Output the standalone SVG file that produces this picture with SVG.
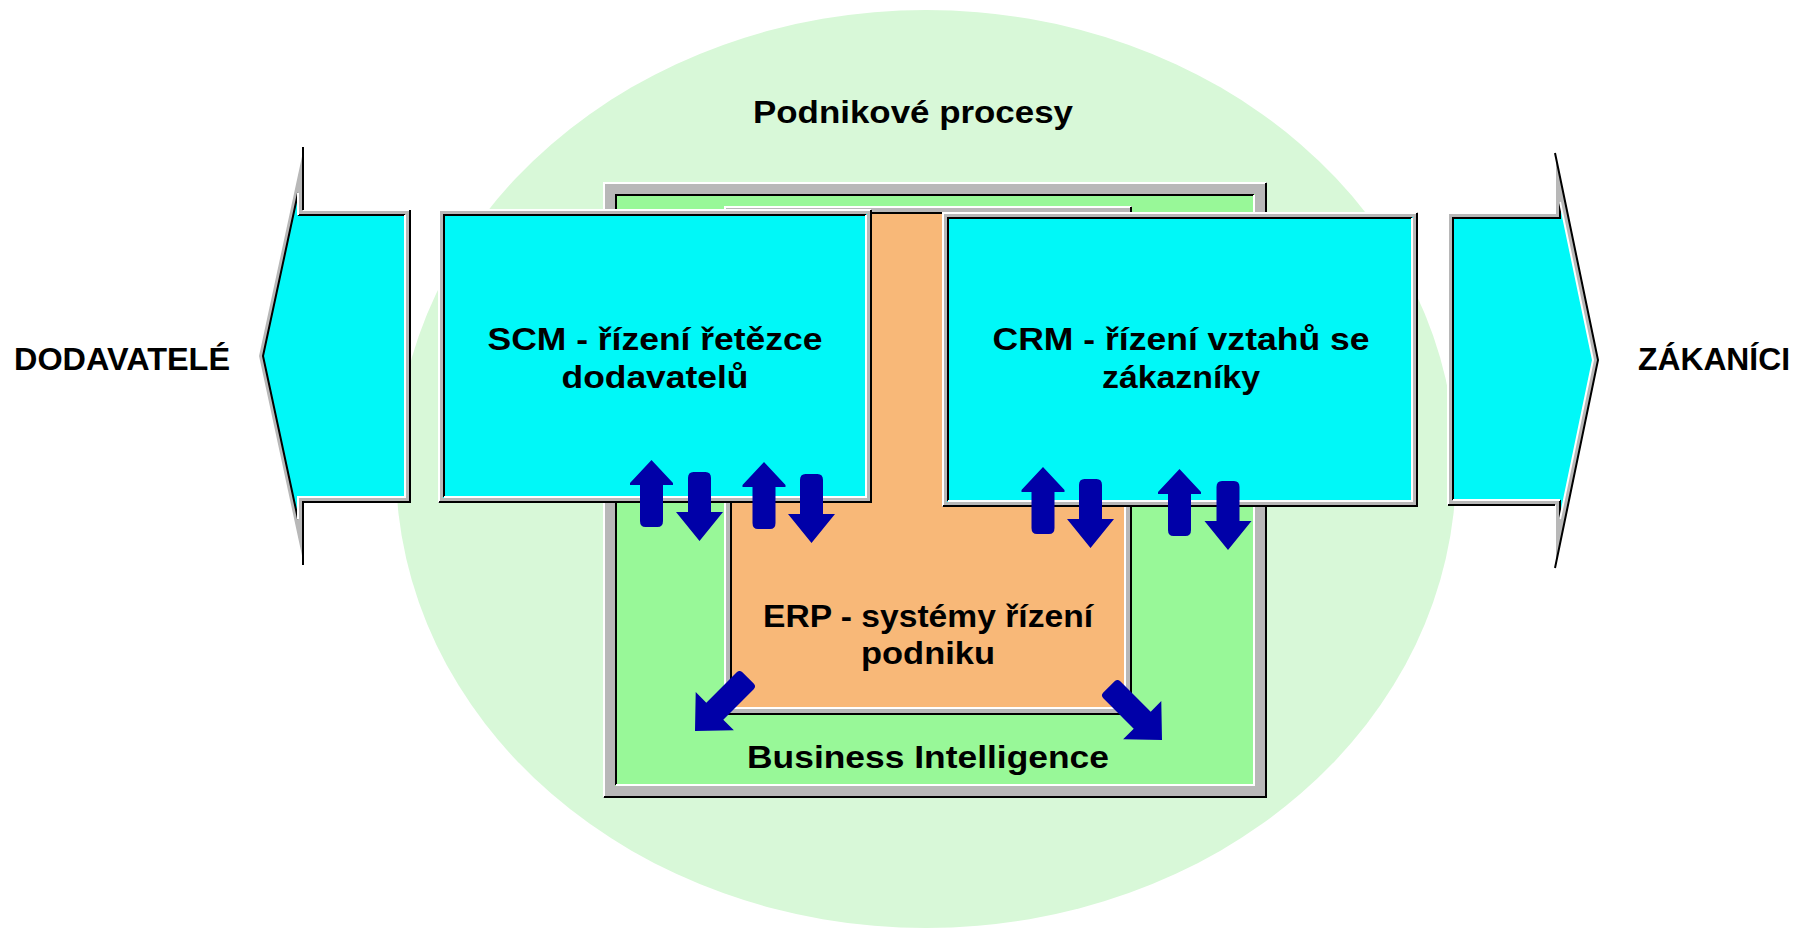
<svg xmlns="http://www.w3.org/2000/svg" width="1800" height="929" viewBox="0 0 1800 929">
<style>
.t{font-family:"Liberation Sans",Arial,sans-serif;font-weight:bold;font-size:31px;fill:#000;}
.g{fill:#b8b8b8;}
.wl{fill:none;stroke:#ffffff;stroke-width:2;}
.bl{fill:none;stroke:#000000;stroke-width:2;}
.cy{fill:#00f8f8;}
.ar{fill:#0000a8;}
</style>
<defs>
<path id="up" d="M0,0 L21.5,23 L21.5,25 L11.5,25 L11.5,61 Q11.5,67 6,67 L-6,67 Q-11.5,67 -11.5,61 L-11.5,25 L-21.5,25 L-21.5,23 Z"/>
<path id="down" d="M0,0 L-23.5,-29 L-11.5,-29 L-11.5,-63 Q-11.5,-69 -6,-69 L6,-69 Q11.5,-69 11.5,-63 L11.5,-29 L23.5,-29 Z"/>
<path id="diag" d="M0,0 L-28,-27 L-28,-12 L-71,-12 Q-75,-12 -75,-8 L-75,8 Q-75,12 -71,12 L-28,12 L-28,27 Z"/>
</defs>
<rect width="1800" height="929" fill="#ffffff"/>

<g id="podnikove-procesy">
<ellipse cx="926" cy="469" rx="530" ry="459" fill="#d8f8d8"/>
<text class="t" x="913" y="123" text-anchor="middle" textLength="320" lengthAdjust="spacingAndGlyphs">Podnikové procesy</text>
</g>

<g id="business-intelligence">
<rect class="g" x="603" y="182" width="664" height="616"/>
<rect x="615" y="194" width="640" height="592" fill="#98f898"/>
<polyline class="wl" points="604,797 604,183 1266,183"/>
<polyline class="bl" points="604,797 1266,797 1266,183"/>
<polyline class="bl" points="616,785 616,195 1254,195"/>
<polyline class="wl" points="616,785 1254,785 1254,195"/>
<text class="t" x="928" y="768" text-anchor="middle" textLength="362" lengthAdjust="spacingAndGlyphs">Business Intelligence</text>
</g>

<g id="erp">
<rect class="g" x="724" y="206" width="408" height="509"/>
<rect x="731" y="213" width="394" height="495" fill="#f8b878"/>
<polyline class="wl" points="725,714 725,207 1131,207"/>
<polyline class="bl" points="725,714 1131,714 1131,207"/>
<polyline class="bl" points="731,708 731,213 1125,213"/>
<polyline class="wl" points="731,708 1125,708 1125,213"/>
<text class="t" x="928" y="627" text-anchor="middle" textLength="330" lengthAdjust="spacingAndGlyphs">ERP - systémy řízení</text>
<text class="t" x="928" y="664" text-anchor="middle" textLength="134" lengthAdjust="spacingAndGlyphs">podniku</text>
</g>

<g id="scm">
<rect class="g" x="438" y="209" width="434" height="294"/>
<rect class="cy" x="443" y="214" width="424" height="284"/>
<polyline class="wl" points="439,502 439,210 871,210"/>
<polyline class="bl" points="439,502 871,502 871,210"/>
<polyline class="bl" points="444,497 444,215 866,215"/>
<polyline class="wl" points="444,497 866,497 866,215"/>
<text class="t" x="655" y="350" text-anchor="middle" textLength="335" lengthAdjust="spacingAndGlyphs">SCM - řízení řetězce</text>
<text class="t" x="655" y="388" text-anchor="middle" textLength="187" lengthAdjust="spacingAndGlyphs">dodavatelů</text>
</g>

<g id="crm">
<rect class="g" x="942" y="212" width="476" height="295"/>
<rect class="cy" x="947" y="217" width="466" height="285"/>
<polyline class="wl" points="943,506 943,213 1417,213"/>
<polyline class="bl" points="943,506 1417,506 1417,213"/>
<polyline class="bl" points="948,501 948,218 1412,218"/>
<polyline class="wl" points="948,501 1412,501 1412,218"/>
<text class="t" x="1181" y="350" text-anchor="middle" textLength="377" lengthAdjust="spacingAndGlyphs">CRM - řízení vztahů se</text>
<text class="t" x="1181" y="388" text-anchor="middle" textLength="158" lengthAdjust="spacingAndGlyphs">zákazníky</text>
</g>

<g id="dodavatele">
<polygon class="g" points="258,356 303,147 303,210 410,210 410,502 303,502 303,565"/>
<polygon class="cy" points="263,356 298,193 298,215 405,215 405,497 298,497 298,519"/>
<polyline class="wl" points="303,565 258,356 303,147"/>
<polyline class="wl" points="303,210 410,210"/>
<polyline class="bl" points="303,147 303,210"/>
<polyline class="bl" points="410,210 410,502 303,502 303,565"/>
<polyline class="bl" stroke-width="1.5" points="298,519 263,356 298,193"/>
<polyline class="bl" stroke-width="1.5" points="298,215 405,215"/>
<polyline class="wl" stroke-width="1.5" points="298,193 298,215"/>
<polyline class="wl" stroke-width="1.5" points="405,215 405,497 298,497 298,519"/>
<text class="t" x="14" y="370" textLength="216" lengthAdjust="spacingAndGlyphs">DODAVATELÉ</text>
</g>

<g id="zakaznici">
<polygon class="g" points="1448,213 1555,213 1555,153 1598,360 1555,568 1555,505 1448,505"/>
<polygon class="cy" points="1453,218 1560,218 1560,202 1593,360 1560,519 1560,500 1453,500"/>
<polyline class="wl" points="1448,505 1448,213 1555,213 1555,153"/>
<polyline class="wl" points="1555,568 1555,505"/>
<polyline class="bl" points="1555,153 1598,360 1555,568"/>
<polyline class="bl" points="1555,505 1448,505"/>
<polyline class="bl" stroke-width="1.5" points="1453,500 1453,218 1560,218 1560,202"/>
<polyline class="bl" stroke-width="1.5" points="1560,519 1560,500"/>
<polyline class="wl" stroke-width="1.5" points="1560,202 1593,360 1560,519"/>
<polyline class="wl" stroke-width="1.5" points="1560,500 1453,500"/>
<text class="t" x="1638" y="370" textLength="152" lengthAdjust="spacingAndGlyphs">ZÁKANÍCI</text>
</g>

<g id="connectors">
<use href="#up" class="ar" transform="translate(651.5,460)"/>
<use href="#down" class="ar" transform="translate(699.5,541)"/>
<use href="#up" class="ar" transform="translate(764,462)"/>
<use href="#down" class="ar" transform="translate(811.5,543)"/>
<use href="#up" class="ar" transform="translate(1043,467)"/>
<use href="#down" class="ar" transform="translate(1090.5,548)"/>
<use href="#up" class="ar" transform="translate(1179.5,469)"/>
<use href="#down" class="ar" transform="translate(1228,550)"/>
<use href="#diag" class="ar" transform="translate(695,731) rotate(135)"/>
<use href="#diag" class="ar" transform="translate(1162,740) rotate(45)"/>
</g>
</svg>
